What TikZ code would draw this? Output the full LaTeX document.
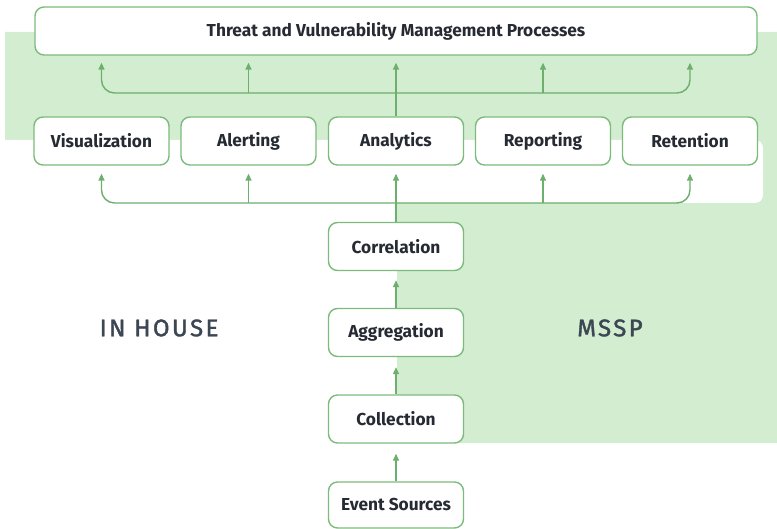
\documentclass[tikz,border=0pt]{standalone}
\usepackage{fontspec}
\setmainfont{Fira Sans}
\newfontfamily\lblfont[LetterSpace=10,FakeBold=1.6]{Fira Sans}
\usetikzlibrary{arrows.meta,calc}
\definecolor{bggreen}{HTML}{D3EDD1}
\definecolor{boxgreen}{HTML}{7DBB7C}
\definecolor{linegreen}{HTML}{6DAF6C}
\definecolor{txtdark}{HTML}{262B33}
\definecolor{lbldark}{HTML}{3D4653}
\tikzset{
  box/.style={draw=boxgreen, line width=1.4pt, fill=white, rounded corners=9pt,
    minimum width=135pt, minimum height=48pt, inner sep=0pt,
    font=\fontsize{17.3}{20}\selectfont\bfseries, text=txtdark},
  conn/.style={draw=linegreen, line width=1.4pt, -{Triangle[length=7pt,width=6pt]}},
  zone/.style={font=\lblfont\fontsize{24}{27}\selectfont, text=lbldark}
}
\begin{document}
\begin{tikzpicture}[x=1pt,y=-1pt]
\useasboundingbox (0,0) rectangle (777,529);
% background zones
\fill[bggreen] (5,32) -- (777,32) -- (777,443) -- (397,443) -- (397,203) -- (5,203) -- cycle;
\fill[white, rounded corners=8pt] (-30,140) rectangle (763,203);
% nodes
\node[box, minimum width=722pt] (top) at (396,31) {Threat and Vulnerability Management Processes};
\node[box] (vis) at (101.5,141) {Visualization};
\node[box] (ale) at (248.5,141) {Alerting};
\node[box] (ana) at (396,141) {Analytics};
\node[box] (rep) at (543,141) {Reporting};
\node[box] (ret) at (690,141) {Retention};
\node[box] (cor) at (396,246.5) {Correlation};
\node[box] (agg) at (396,332.5) {Aggregation};
\node[box] (col) at (396,419) {Collection};
\node[box, minimum height=46pt] (ev) at (396,505) {Event Sources};
\node[zone] (inh) at (159,328) {IN HOUSE};
\node[zone] (mssp) at (610,328) {MSSP};
\coordinate (busA) at (0,93);
\coordinate (busB) at (0,203);
% upper bus
\draw[conn, shorten >=7pt] (ana.north) -- (top.south -| ana.north);
\draw[conn, shorten >=7pt, rounded corners=13pt] (ana.north |- busA) -| (top.south -| vis.north);
\draw[conn, shorten >=7pt, rounded corners=13pt] (ana.north |- busA) -| (top.south -| ret.north);
\draw[conn, shorten >=7pt] (ale.north |- busA) -- (top.south -| ale.north);
\draw[conn, shorten >=7pt] (rep.north |- busA) -- (top.south -| rep.north);
% lower bus
\draw[conn, shorten >=8pt] (cor.north) -- (ana.south);
\draw[conn, shorten >=8pt, rounded corners=13pt] (ana.south |- busB) -| (vis.south);
\draw[conn, shorten >=8pt, rounded corners=13pt] (ana.south |- busB) -| (ret.south);
\draw[conn, shorten >=8pt] (ale.south |- busB) -- (ale.south);
\draw[conn, shorten >=8pt] (rep.south |- busB) -- (rep.south);
% chain
\draw[conn, shorten >=9pt] (agg.north) -- (cor.south);
\draw[conn, shorten >=10pt] (col.north) -- (agg.south);
\draw[conn, shorten >=10pt] (ev.north) -- (col.south);
\end{tikzpicture}
\end{document}
